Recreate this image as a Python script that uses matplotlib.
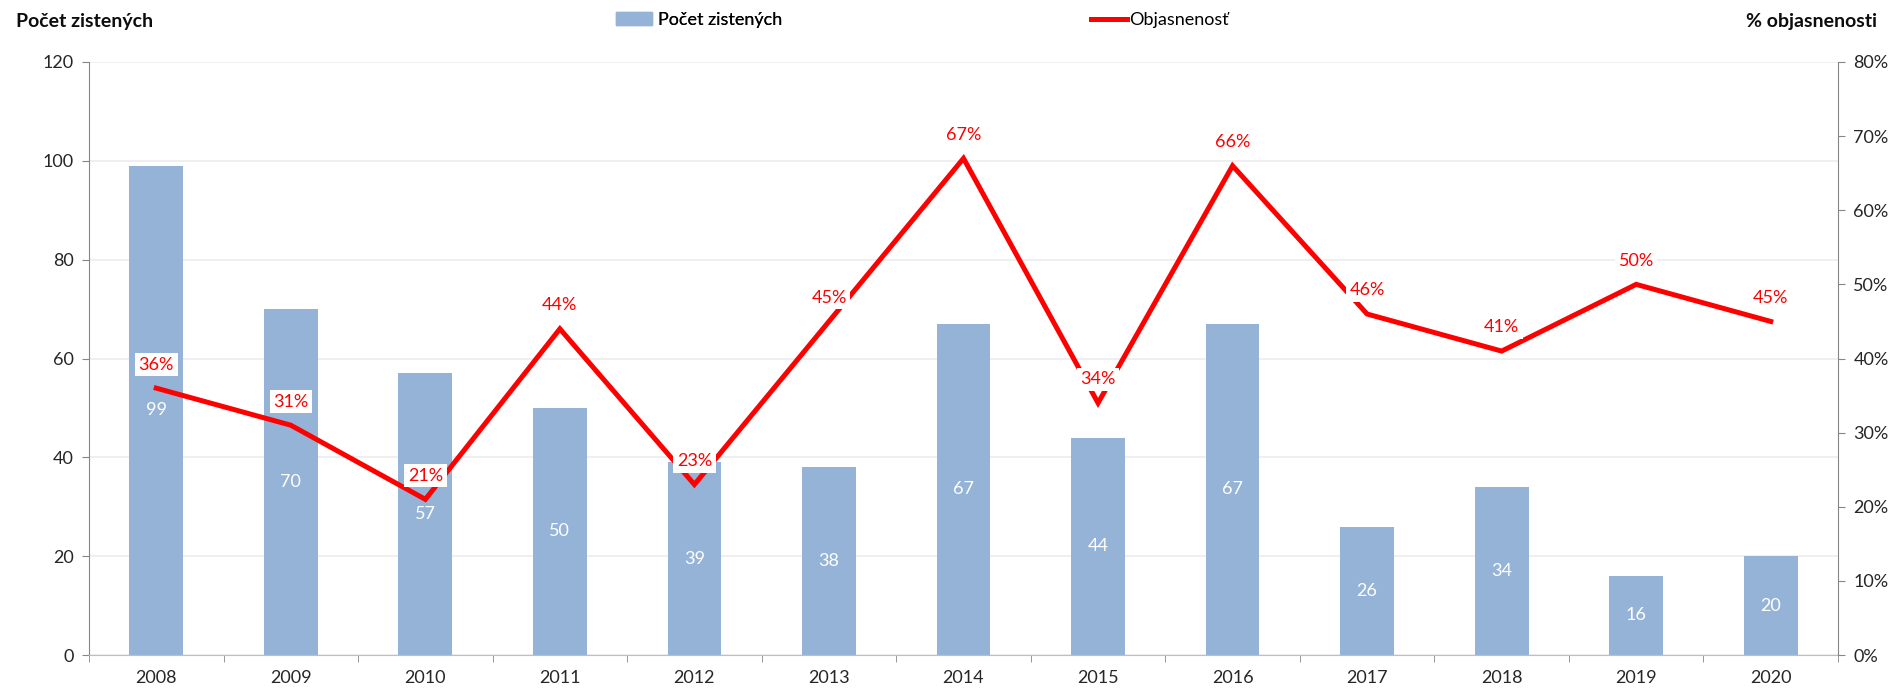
import numpy as np
import matplotlib
matplotlib.use("Agg")
import matplotlib.pyplot as plt
from matplotlib.patches import Patch
from matplotlib.lines import Line2D

plt.rcParams['font.family'] = ['Lato', 'DejaVu Sans']

years = ['2008', '2009', '2010', '2011', '2012', '2013', '2014',
         '2015', '2016', '2017', '2018', '2019', '2020']
counts = [99, 70, 57, 50, 39, 38, 67, 44, 67, 26, 34, 16, 20]
clearance = [36, 31, 21, 44, 23, 45, 67, 34, 66, 46, 41, 50, 45]

bar_color = '#95b3d7'
line_color = '#ff0000'
axis_color = '#868686'
fs = 13

fig = plt.figure(figsize=(18.93, 6.89), dpi=100)
ax = fig.add_axes([89 / 1893, 1 - 655 / 689, (1838 - 89) / 1893, (655 - 62) / 689])
ax2 = ax.twinx()

x = np.arange(len(years))
ax.bar(x, counts, width=0.4, color=bar_color, zorder=2)
for xi, c in zip(x, counts):
    ax.text(xi, c / 2, str(c), ha='center', va='center', color='white', fontsize=fs, zorder=3)

ax2.plot(x, clearance, color=line_color, lw=3.6, solid_joinstyle='miter', zorder=4)
for xi, p in zip(x, clearance):
    ax2.annotate(f'{p}%', (xi, p), xytext=(0, 17), textcoords='offset points',
                 ha='center', va='center', color=line_color, fontsize=fs, zorder=5,
                 bbox=dict(boxstyle='square,pad=0.2', fc='white', ec='none'))

ax.set_xlim(-0.5, len(years) - 0.5)
ax.set_ylim(0, 120)
ax.set_yticks(np.arange(0, 121, 20))
ax2.set_ylim(0, 80)
ax2.set_yticks(np.arange(0, 81, 10))
ax2.set_yticklabels([f'{v}%' for v in range(0, 81, 10)])

ax.set_xticks(x)
ax.set_xticklabels(years)
ax.set_xticks(np.arange(-0.5, len(years), 1), minor=True)
ax.tick_params(axis='x', which='major', length=0, pad=11, labelsize=fs, colors='#262626')
ax.tick_params(axis='x', which='minor', length=5, color=axis_color, direction='out')
ax.tick_params(axis='y', length=5, color=axis_color, labelsize=fs, labelcolor='#262626', pad=6)
ax2.tick_params(axis='y', length=5, color=axis_color, labelsize=fs, labelcolor='#262626', pad=6)

ax.grid(axis='y', color='#ececec', lw=1.2, zorder=0)
ax.set_axisbelow(True)
for a in (ax, ax2):
    a.spines['top'].set_visible(False)
    a.spines['left'].set_color(axis_color)
    a.spines['right'].set_color(axis_color)
    a.spines['bottom'].set_color('#bfbfbf')
ax.spines['right'].set_visible(False)
ax2.spines['left'].set_visible(False)
ax2.spines['bottom'].set_visible(False)

fig.text(16 / 1893, 1 - 21 / 689, 'Počet zistených', fontsize=14, fontweight='bold',
         ha='left', va='center', color='#0d0d0d')
fig.text(1877 / 1893, 1 - 21 / 689, '% objasnenosti', fontsize=14, fontweight='bold',
         ha='right', va='center', color='#0d0d0d')

leg1 = fig.legend(handles=[Patch(color=bar_color, label='Počet zistených')],
                  loc='center left', bbox_to_anchor=(616 / 1893, 1 - 20 / 689),
                  frameon=False, fontsize=fs, handlelength=2.0, handletextpad=0.3,
                  borderaxespad=0, borderpad=0)
fig.legend(handles=[Line2D([], [], color=line_color, lw=3.6, label='Objasnenosť')],
           loc='center left', bbox_to_anchor=(1091 / 1893, 1 - 20 / 689),
           frameon=False, fontsize=fs, handlelength=2.0, handletextpad=0.1,
           borderaxespad=0, borderpad=0)
fig.add_artist(leg1)

fig.savefig('out.png', dpi=100)
